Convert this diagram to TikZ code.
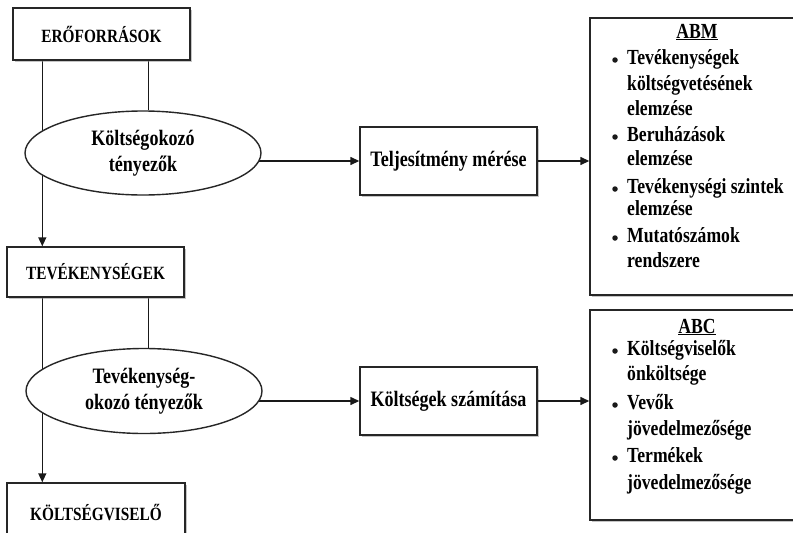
\documentclass[tikz,border=0pt]{standalone}
\usepackage{fontspec}
\setmainfont{Liberation Serif}[FakeStretch=0.82]
\usetikzlibrary{arrows.meta,shadows,backgrounds,shapes.geometric}
\begin{document}
\begin{tikzpicture}[x=1pt,y=-1pt,
  every node/.style={font=\bfseries},
  box/.style={draw=black!85,line width=1.4pt,fill=white,rectangle,inner sep=0pt,
    drop shadow={shadow xshift=1.8pt,shadow yshift=-1.8pt,fill=black!45,opacity=0.5}},
  oval/.style={draw=black!85,line width=1.4pt,fill=white,ellipse,inner sep=0pt,align=center,font=\bfseries\fontsize{22}{26}\selectfont},
  capsfont/.style={font=\bfseries\fontsize{18.7}{22}\selectfont},
  midfont/.style={font=\bfseries\fontsize{22}{26}\selectfont},
  listtxt/.style={anchor=mid west,inner sep=0pt,font=\bfseries\fontsize{21.5}{26}\selectfont},
  ttl/.style={anchor=center,inner sep=0pt,font=\bfseries\fontsize{21.5}{26}\selectfont},
  bul/.style={circle,fill=black!90,inner sep=0pt,minimum size=5.5pt},
  arr/.style={line width=1.4pt,draw=black!90,-{Triangle[length=9pt,width=8pt]}},
  ln/.style={line width=1.4pt,draw=black!90}]
\useasboundingbox (0,0) rectangle (793,533);
\clip (0,0) rectangle (793,533);

% left column
\node[box,capsfont,minimum width=177pt,minimum height=52pt] (ero) at (101.5,34) {ERŐFORRÁSOK};
\node[oval,minimum width=236pt,minimum height=84pt] (e1) at (143,153) {Költségokozó\\tényezők};
\node[box,capsfont,minimum width=177pt,minimum height=50pt] (tev) at (95.5,272) {TEVÉKENYSÉGEK};
\node[oval,minimum width=236pt,minimum height=85pt] (e2) at (144,391) {Tevékenység-\\okozó tényezők};
\node[box,capsfont,minimum width=178pt,minimum height=60pt] (kv) at (96,513) {KÖLTSÉGVISELŐ};

% middle column
\node[box,midfont,minimum width=177pt,minimum height=68pt] (telj) at (448.5,161) {Teljesítmény mérése};
\node[box,midfont,minimum width=177pt,minimum height=68pt] (kszam) at (448.5,401) {Költségek számítása};

% right column (right edges run past the picture's border)
\node[box,minimum width=212pt,minimum height=277pt] (abm) at (696,156.5) {};
\node[box,minimum width=212pt,minimum height=210pt] (abc) at (696,415) {};

\node[ttl] (abmt) at (697,32) {\underline{ABM}};
\node[bul] (b1) at (615,60) {};
\node[listtxt] (t1a) at (627,62) {Tevékenységek};
\node[listtxt] (t1b) at (627,88) {költségvetésének};
\node[listtxt] (t1c) at (627,113) {elemzése};
\node[bul] (b2) at (615,137) {};
\node[listtxt] (t2a) at (627,139) {Beruházások};
\node[listtxt] (t2b) at (627,163) {elemzése};
\node[bul] (b3) at (615,189) {};
\node[listtxt] (t3a) at (627,191) {Tevékenységi szintek};
\node[listtxt] (t3b) at (627,213) {elemzése};
\node[bul] (b4) at (615,238) {};
\node[listtxt] (t4a) at (627,240) {Mutatószámok};
\node[listtxt] (t4b) at (627,265) {rendszere};

\node[ttl] (abct) at (697,327) {\underline{ABC}};
\node[bul] (c1) at (615,351) {};
\node[listtxt] (s1a) at (627,353) {Költségviselők};
\node[listtxt] (s1b) at (627,378) {önköltsége};
\node[bul] (c2) at (615,405) {};
\node[listtxt] (s2a) at (627,407) {Vevők};
\node[listtxt] (s2b) at (627,433) {jövedelmezősége};
\node[bul] (c3) at (615,458) {};
\node[listtxt] (s3a) at (627,460) {Termékek};
\node[listtxt] (s3b) at (627,487) {jövedelmezősége};

\begin{pgfonlayer}{background}
  \draw[arr] ([xshift=30pt]ero.south west) -- ([xshift=30pt]ero.south west |- tev.north);
  \draw[ln] ([xshift=136pt]ero.south west) -- ([xshift=136pt]ero.south west |- e1.north);
  \draw[arr] ([xshift=36pt]tev.south west) -- ([xshift=36pt]tev.south west |- kv.north);
  \draw[ln] ([xshift=142pt]tev.south west) -- ([xshift=142pt]tev.south west |- e2.north);
  \draw[arr] (e1 |- telj) -- (telj.west);
  \draw[arr] (e2 |- kszam) -- (kszam.west);
\end{pgfonlayer}
\draw[arr] (telj.east) -- (telj.east -| abm.west);
\draw[arr] (kszam.east) -- (kszam.east -| abc.west);
\end{tikzpicture}
\end{document}
